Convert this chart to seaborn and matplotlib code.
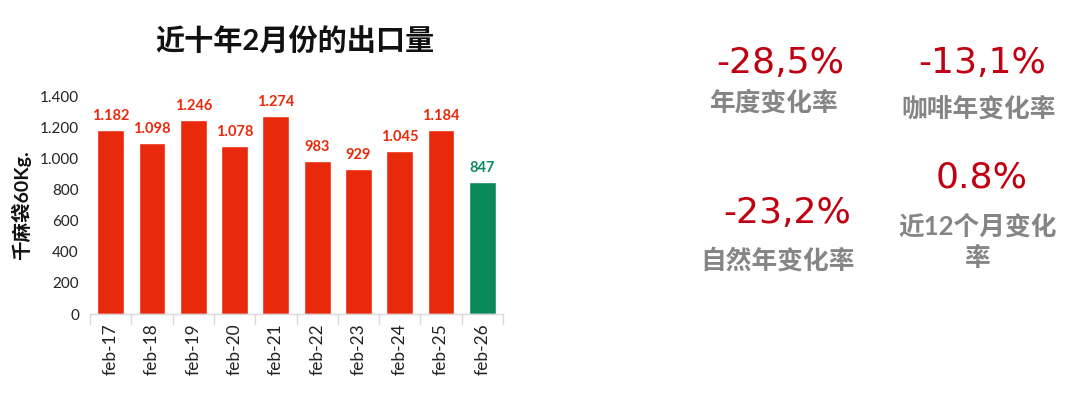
import matplotlib
matplotlib.use("Agg")
import matplotlib.pyplot as plt
import seaborn as sns
import pandas as pd

# February exports over the last ten years (thousand 60kg bags)
months = ["feb-17", "feb-18", "feb-19", "feb-20", "feb-21",
          "feb-22", "feb-23", "feb-24", "feb-25", "feb-26"]
exports = [1182, 1098, 1246, 1078, 1274, 983, 929, 1045, 1184, 847]
period = ["past"] * 9 + ["current"]

y_ticks = [0, 200, 400, 600, 800, 1000, 1200, 1400]

# Summary indicators shown beside the chart
kpi_values = ["-28,5%", "-13,1%", "-23,2%", "0.8%"]
kpi_labels = ["年度变化率", "咖啡年变化率", "自然年变化率", "近12个月变化\n率"]

RED = "#E8290B"
GREEN = "#0A8A5A"
KPI_RED = "#C00010"
GRAY = "#858585"

sns.set_theme(style="white")
FAMILY = ["Lato", "Noto Sans CJK SC", "DejaVu Sans"]
plt.rcParams["font.family"] = FAMILY


def fmt(v):
    return f"{v:,}".replace(",", ".")


df = pd.DataFrame({"month": months, "exports": exports, "period": period})

fig = plt.figure(figsize=(10.8, 3.99), dpi=100)
ax = fig.add_axes([90 / 1080, 85 / 399, 413 / 1080, 218 / 399])

sns.barplot(data=df, x="month", y="exports", hue="period",
            palette={"past": RED, "current": GREEN}, dodge=False,
            width=0.65, saturation=1, legend=False, ax=ax)

for i, (v, p) in enumerate(zip(exports, period)):
    ax.text(i, v + 45, fmt(v), ha="center", va="bottom",
            fontsize=10.5, fontweight="bold",
            color=GREEN if p == "current" else RED, clip_on=False)

ax.set_xlim(-0.5, len(months) - 0.5)
ax.set_ylim(0, 1400)
ax.set_yticks(y_ticks)
ax.set_yticklabels([fmt(t) for t in y_ticks], fontsize=11, color="#222222")
ax.tick_params(axis="y", length=0, pad=8)

# category separators below the baseline
ax.set_xticks(range(len(months)))
ax.set_xticklabels(months, rotation=90, fontsize=12.5, color="#222222")
ax.tick_params(axis="x", length=0, pad=7)
for b in [i - 0.5 for i in range(len(months) + 1)]:
    ax.plot([b, b], [0, -0.045], transform=ax.get_xaxis_transform(),
            color="#D9D9D9", lw=1, clip_on=False)

for s in ["top", "right", "left"]:
    ax.spines[s].set_visible(False)
ax.spines["bottom"].set_color("#D9D9D9")
ax.spines["bottom"].set_linewidth(1)

ax.set_xlabel("")
ax.set_ylabel("千麻袋60Kg.", fontsize=14, fontweight="bold", labelpad=6,
              color="#111111")

fig.text(295 / 1080, 1 - 42 / 399, "近十年2月份的出口量", ha="center",
         va="center", fontsize=21, fontweight="bold", color="#111111")

# KPI blocks
kpi_pos = [((780, 63), (773, 102)),
           ((982, 63), (979, 108)),
           ((787, 213), (778, 260)),
           ((982, 178), (978, 242))]
for val, lab, ((vx, vy), (lx, ly)) in zip(kpi_values, kpi_labels, kpi_pos):
    fig.text(vx / 1080, 1 - vy / 399, val, ha="center", va="center",
             fontsize=26, color=KPI_RED,
             family=["DejaVu Sans", "Noto Sans CJK SC"])
    fig.text(lx / 1080, 1 - ly / 399, lab, ha="center", va="center",
             fontsize=18.5, fontweight="bold", color=GRAY, linespacing=1.35)

fig.savefig("out.png", dpi=100, facecolor="white")
